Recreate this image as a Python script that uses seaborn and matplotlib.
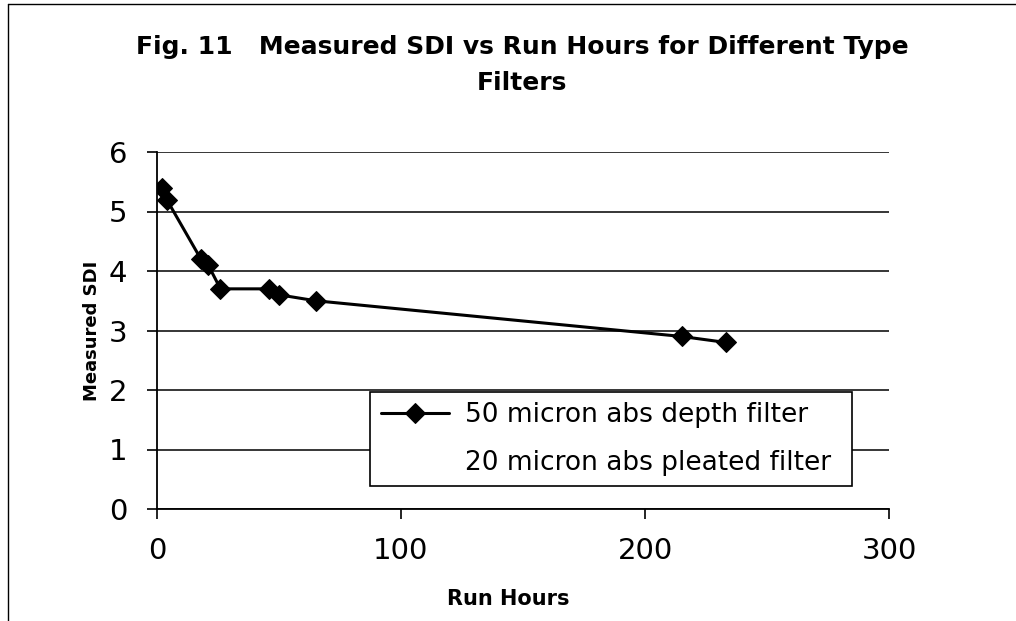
import numpy as np
import pandas as pd
import matplotlib
matplotlib.use("Agg")
import matplotlib.pyplot as plt
import seaborn as sns

# data
run_hours = [2, 4, 18, 21, 26, 46, 50, 65, 215, 233]
sdi_depth = [5.4, 5.2, 4.2, 4.1, 3.7, 3.7, 3.6, 3.5, 2.9, 2.8]
series_names = ["50 micron abs depth filter", "20 micron abs pleated filter"]

x_ticks = [0, 100, 200, 300]
y_ticks = [0, 1, 2, 3, 4, 5, 6]

df = pd.DataFrame({"Run Hours": run_hours, "Measured SDI": sdi_depth})

sns.set_style("white")
plt.rcParams['font.family'] = ['DejaVu Sans']
plt.rcParams.update({"text.color": "black", "axes.labelcolor": "black",
                     "xtick.color": "black", "ytick.color": "black"})

fig = plt.figure(figsize=(10.16, 6.21), dpi=100)
ax = fig.add_axes([157 / 1016, 1 - 509 / 621, 732 / 1016, 357 / 621])

sns.lineplot(data=df, x="Run Hours", y="Measured SDI", ax=ax, color="black",
             marker="D", markersize=10, markeredgecolor="black", linewidth=2.2,
             label=series_names[0])
# second series has no points on the chart, only a legend entry
ax.plot([], [], color="none", label=series_names[1])

ax.set_xlim(0, 300)
ax.set_ylim(0, 6)
ax.set_xticks(x_ticks)
ax.set_yticks(y_ticks)
ax.tick_params(axis="both", labelsize=21, direction="out", length=7.5,
               width=1.2, color="black", left=True, bottom=True)
ax.tick_params(axis="x", pad=13)
ax.tick_params(axis="y", pad=14)
ax.yaxis.grid(True, color="black", linewidth=1.1)
ax.xaxis.grid(False)
for side in ["top", "right"]:
    ax.spines[side].set_visible(False)
for side in ["left", "bottom"]:
    ax.spines[side].set_color("black")
    ax.spines[side].set_linewidth(1.3)

ax.set_xlabel("Run Hours", fontsize=15, fontweight="bold")
ax.xaxis.set_label_coords(0.4795, -0.225)
ax.set_ylabel("Measured SDI", fontsize=13, fontweight="bold")
ax.yaxis.set_label_coords(-0.0765, 0.5)

fig.text(0.514, 1 - 47 / 621, "Fig. 11   Measured SDI vs Run Hours for Different Type",
         ha="center", va="center", fontsize=18, fontweight="bold")
fig.text(0.514, 1 - 83 / 621, "Filters",
         ha="center", va="center", fontsize=18, fontweight="bold")

leg = ax.legend(loc="lower left", bbox_to_anchor=(0.291, 0.064, 0.658, 0.26),
                mode="expand", fontsize=19,
                frameon=True, fancybox=False, edgecolor="black", framealpha=1,
                handlelength=2.6, handletextpad=0.6, borderpad=0.4,
                labelspacing=0.8, borderaxespad=0)
leg.get_frame().set_linewidth(1.2)

# outer chart border (top and left edges visible in the scan)
fig.add_artist(plt.Line2D([8 / 1016, 1], [1 - 4 / 621, 1 - 4 / 621], color="black", linewidth=1))
fig.add_artist(plt.Line2D([8 / 1016, 8 / 1016], [0, 1 - 4 / 621], color="black", linewidth=1))

fig.savefig("out.png", dpi=100)
